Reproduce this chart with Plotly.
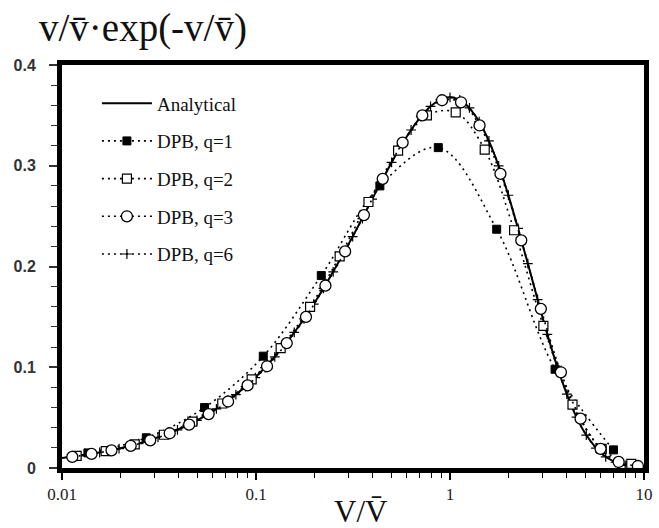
import plotly.graph_objects as go

# ---- data ----
ana_x = [0.01, 0.015, 0.02, 0.03, 0.05, 0.07, 0.1, 0.15, 0.2, 0.3, 0.4, 0.5, 0.6, 0.7, 0.8, 0.9,
         1.0, 1.1, 1.2, 1.4, 1.6, 1.8, 2.0, 2.5, 3.0, 3.5, 4.0, 4.5, 5.0, 6.0, 7.0, 8.0, 9.0, 10.0]
ana_y = [0.0099, 0.0148, 0.0196, 0.0291, 0.0476, 0.0653, 0.0905, 0.1291, 0.1637, 0.2222, 0.2681,
         0.3033, 0.3293, 0.3476, 0.3595, 0.3659, 0.3679, 0.3662, 0.3614, 0.3452, 0.3230, 0.2975,
         0.2707, 0.2052, 0.1494, 0.1057, 0.0733, 0.0500, 0.0337, 0.0149, 0.0064, 0.0027, 0.0011, 0.0005]

q1_x = [0.0136, 0.0272, 0.0543, 0.109, 0.217, 0.435, 0.87, 1.74, 3.48, 6.96]
q1_y = [0.015, 0.030, 0.060, 0.111, 0.191, 0.280, 0.318, 0.237, 0.098, 0.018]

q2_x = [0.0119, 0.0168, 0.0237, 0.0335, 0.047, 0.067, 0.095, 0.134, 0.19, 0.27, 0.38, 0.54,
        0.76, 1.07, 1.51, 2.14, 3.03, 4.28, 6.05, 8.6]
q2_y = [0.012, 0.0168, 0.0235, 0.033, 0.046, 0.064, 0.088, 0.119, 0.160, 0.210, 0.264, 0.315,
        0.350, 0.353, 0.316, 0.236, 0.141, 0.063, 0.019, 0.004]

q3_x = [0.0113, 0.0142, 0.018, 0.0226, 0.0285, 0.0359, 0.0452, 0.057, 0.0718, 0.0905, 0.114,
        0.144, 0.181, 0.228, 0.288, 0.36, 0.45, 0.57, 0.72, 0.91, 1.14, 1.42, 1.82, 2.33, 2.94,
        3.73, 4.71, 5.97, 7.4, 9.3]
q3_y = [0.011, 0.014, 0.0175, 0.022, 0.0275, 0.0345, 0.043, 0.0535, 0.066, 0.082, 0.101,
        0.124, 0.150, 0.181, 0.215, 0.251, 0.287, 0.323, 0.350, 0.365, 0.363, 0.340, 0.292,
        0.226, 0.158, 0.095, 0.049, 0.019, 0.006, 0.002]

q6_x = [0.01105, 0.0124, 0.01392, 0.01563, 0.01754, 0.01969, 0.0221, 0.0248, 0.02784, 0.03125,
        0.03508, 0.03937, 0.04419, 0.04961, 0.05568, 0.0625, 0.07015, 0.07875, 0.08839, 0.09921,
        0.1114, 0.125, 0.1403, 0.1575, 0.1768, 0.1984, 0.2227, 0.25, 0.2806, 0.315, 0.3536,
        0.3969, 0.4454, 0.5, 0.5612, 0.63, 0.7071, 0.7937, 0.8909, 1.0, 1.1225, 1.2599, 1.4142,
        1.5874, 1.7818, 2.0, 2.2449, 2.5198, 2.8284, 3.1748, 3.5636, 4.0, 4.4898, 5.0397,
        5.6569, 6.3496, 7.1272, 8.0, 8.98]
q6_y = [0.0109, 0.0123, 0.0137, 0.0154, 0.0172, 0.0193, 0.0216, 0.0242, 0.0271, 0.0303,
        0.0339, 0.0379, 0.0423, 0.0472, 0.0527, 0.0587, 0.0654, 0.0728, 0.0809, 0.0898,
        0.0997, 0.1103, 0.1219, 0.1346, 0.1481, 0.1627, 0.1783, 0.1947, 0.2119, 0.2297, 0.2476,
        0.2669, 0.2853, 0.3033, 0.3202, 0.3355, 0.3487, 0.3589, 0.3655, 0.3679, 0.3654, 0.3574,
        0.3438, 0.3246, 0.2999, 0.2707, 0.2378, 0.2028, 0.1672, 0.1327, 0.1010, 0.0733, 0.0504,
        0.0326, 0.0198, 0.0111, 0.0057, 0.0027, 0.0011]

x_tickvals = [0.01, 0.1, 1, 10]
x_ticktext = ["0.01", "0.1", "1", "10"]
y_tickvals = [0, 0.1, 0.2, 0.3, 0.4]
y_ticktext = ["0", "0.1", "0.2", "0.3", "0.4"]

names = ["Analytical", "DPB, q=1", "DPB, q=2", "DPB, q=3", "DPB, q=6"]
title_text = "v/v\u0304\u00b7exp(-v/v\u0304)"
xtitle_text = "V/V\u0304"

SERIF = "Liberation Serif"
dotted = dict(color="black", width=1.6, dash="2px,4px", shape="spline")

fig = go.Figure()
fig.add_trace(go.Scatter(x=ana_x, y=ana_y, mode="lines", name=names[0], legendrank=1,
                         legendgroup="a", line=dict(color="black", width=2, shape="spline")))
fig.add_trace(go.Scatter(x=q6_x, y=q6_y, mode="lines+markers", name=names[4], legendrank=5,
                         legendgroup="e", line=dotted,
                         marker=dict(symbol="cross-thin", size=7, line=dict(color="black", width=1.2))))
fig.add_trace(go.Scatter(x=q1_x, y=q1_y, mode="lines+markers", name=names[1], legendrank=2,
                         legendgroup="b", line=dotted,
                         marker=dict(symbol="square", size=8, color="black", line=dict(color="black", width=1))))
fig.add_trace(go.Scatter(x=q2_x, y=q2_y, mode="lines+markers", name=names[2], legendrank=3,
                         legendgroup="c", line=dotted,
                         marker=dict(symbol="square", size=9, color="white", line=dict(color="black", width=1.2))))
fig.add_trace(go.Scatter(x=q3_x, y=q3_y, mode="lines+markers", name=names[3], legendrank=4,
                         legendgroup="d", line=dotted,
                         marker=dict(symbol="circle", size=11, color="white", line=dict(color="black", width=1.3))))

fig.update_xaxes(type="log", range=[-2, 1], showline=True, linewidth=5, linecolor="black", mirror=True,
                 ticks="outside", ticklen=7, tickwidth=1.5, tickcolor="black",
                 tickvals=x_tickvals, ticktext=x_ticktext,
                 tickfont=dict(family=SERIF, size=17, color="#222"),
                 minor=dict(ticks="outside", ticklen=5, tickwidth=1, tickcolor="black",
                            tickvals=[m * 10 ** e for e in (-2, -1, 0) for m in range(2, 10)]),
                 showgrid=False, zeroline=False)
fig.update_yaxes(range=[0, 0.4], showline=True, linewidth=5, linecolor="black", mirror=True,
                 ticks="outside", ticklen=8, tickwidth=1.5, tickcolor="#333",
                 tickvals=y_tickvals, ticktext=y_ticktext, ticklabelstandoff=10,
                 tickfont=dict(family="Liberation Sans", size=16, color="#333", weight="bold"),
                 minor=dict(ticks="outside", ticklen=6, tickwidth=1.2, tickcolor="#333", dtick=0.02),
                 showgrid=False, zeroline=False)

fig.update_layout(
    width=659, height=528,
    margin=dict(l=62, r=6, t=65, b=60),
    paper_bgcolor="white", plot_bgcolor="white",
    showlegend=True,
    legend=dict(x=0.06, y=0.952, xanchor="left", yanchor="top", bgcolor="rgba(0,0,0,0)",
                font=dict(family=SERIF, size=19, color="#111"), itemwidth=50,
                tracegroupgap=10),
    annotations=[
        dict(text=title_text, xref="paper", yref="paper", x=-0.043, y=1.092, xanchor="left",
             yanchor="middle", showarrow=False, font=dict(family=SERIF, size=39, color="#111")),
        dict(text=xtitle_text, xref="paper", yref="paper", x=0.513, y=-0.1489, xanchor="center",
             yanchor="bottom", yshift=-3, showarrow=False, font=dict(family=SERIF, size=31, color="#111")),
    ],
)

fig.write_html("out.html", post_script="document.body.style.margin='0px';",
               config={"displayModeBar": False})
